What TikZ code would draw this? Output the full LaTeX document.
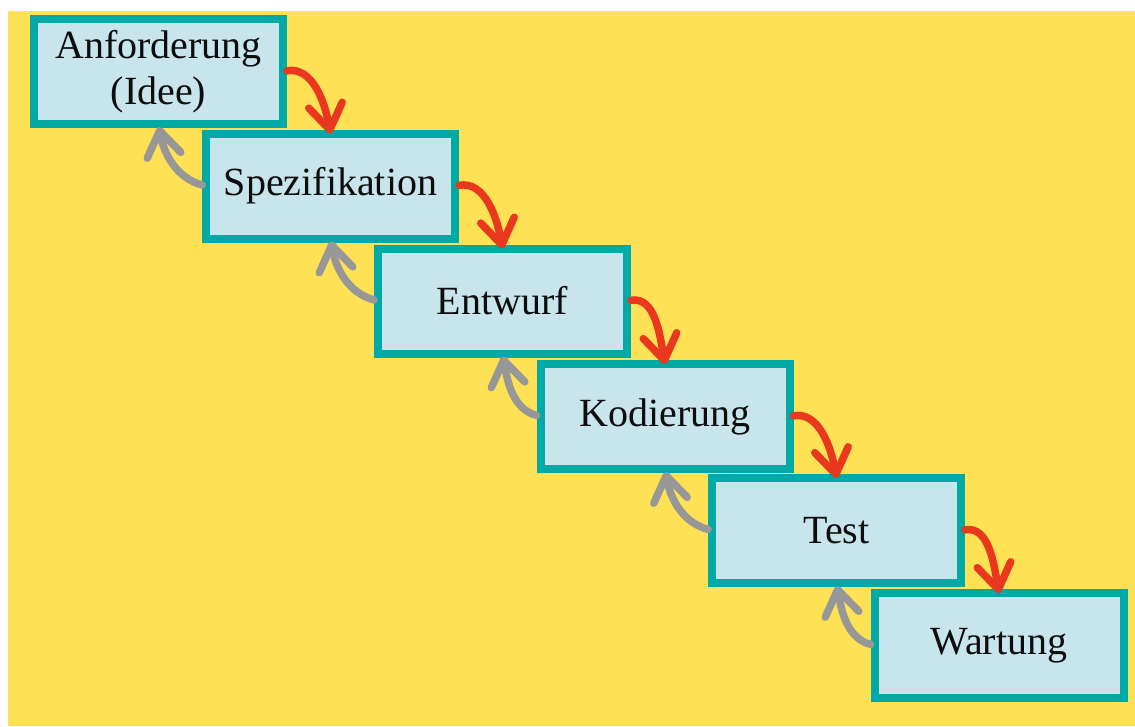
\documentclass[tikz,border=0pt]{standalone}
\usepackage{fontspec}
\setmainfont{Liberation Serif}
\usetikzlibrary{arrows.meta}
\definecolor{bgyellow}{HTML}{FEE155}
\definecolor{teal}{HTML}{00A8A6}
\definecolor{boxfill}{HTML}{C7E5EA}
\definecolor{redarrow}{HTML}{E8381E}
\definecolor{grayarrow}{HTML}{979797}
\tikzset{
  stepbox/.style={draw=teal, fill=boxfill, line width=8pt, minimum width=249pt, minimum height=105pt,
    inner sep=0pt, outer sep=0pt, align=center, text=black!95,
    font=\fontsize{40}{46}\selectfont},
  fwd/.style={draw=redarrow, line width=7.5pt, line cap=round,
    -{Straight Barb[length=25pt,width=34pt,round]}, shorten <=4pt},
  back/.style={draw=grayarrow, line width=7.5pt, line cap=round,
    -{Straight Barb[length=25pt,width=34pt,round]}, shorten <=4pt, shorten >=3pt}
}
\begin{document}
\begin{tikzpicture}[x=1pt,y=-1pt]
\useasboundingbox (0,0) rectangle (1135,726);
\fill[white] (0,0) rectangle (1135,726);
\fill[bgyellow] (8,11) rectangle (1135,726);
\node[stepbox] (b1) at (158.5,71.5) {Anforderung\\(Idee)};
\node[stepbox] (b2) at (330.5,186) {Spezifikation};
\node[stepbox] (b3) at (502.5,301) {Entwurf};
\node[stepbox] (b4) at (665,416.5) {Kodierung};
\node[stepbox] (b5) at (836.5,530.5) {Test};
\node[stepbox] (b6) at (999,645.5) {Wartung};
\foreach \a/\b in {b1/b2,b2/b3,b3/b4,b4/b5,b5/b6}{
  \draw[fwd] (\a.east) to[out=10,in=100] (\b.north);
  \draw[back] (\b.west) to[out=165,in=-80] (\a.south);
}
\end{tikzpicture}
\end{document}
